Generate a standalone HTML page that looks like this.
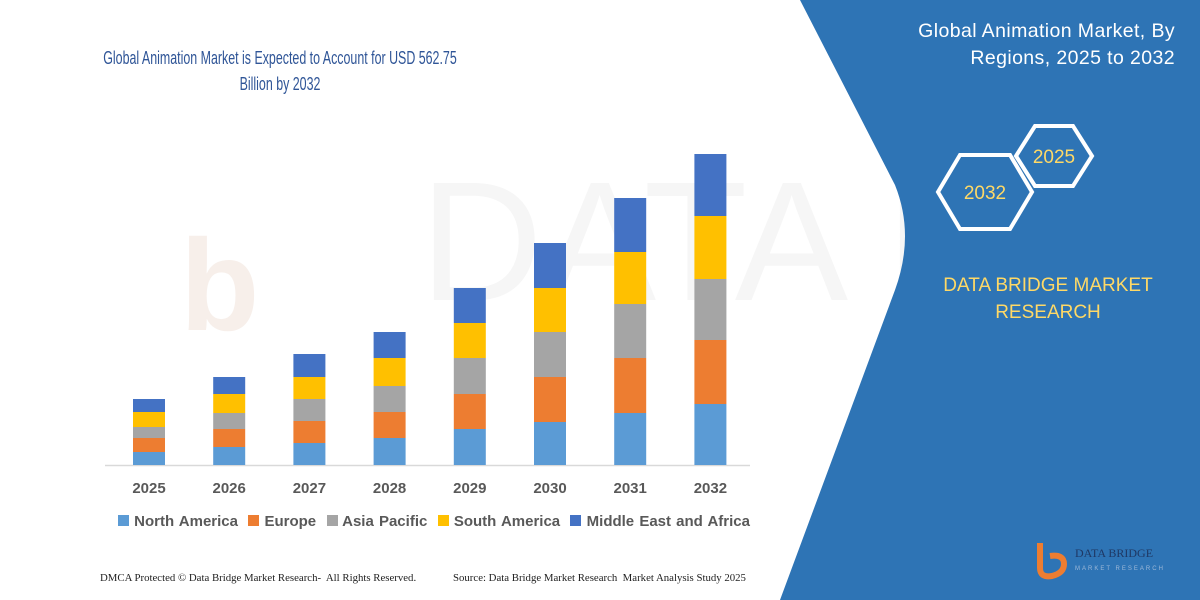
<!DOCTYPE html>
<html><head><meta charset="utf-8"><style>
body{margin:0;width:1200px;height:600px;overflow:hidden;background:#fff;font-family:"Liberation Sans",sans-serif;position:relative}
.a{position:absolute;white-space:nowrap}
</style></head><body>
<svg width="1200" height="600" style="position:absolute;left:0;top:0">
<text x="180" y="330" font-size="130" fill="#f7efea" font-weight="bold" font-family="Liberation Sans">b</text>
<text x="420" y="300" font-size="170" fill="#f6f6f6" font-family="Liberation Sans">DATA BRIDGE</text>
<path d="M800,0 L1200,0 L1200,600 L780,600 L895,290 Q915,235 895,185 Z" fill="#2e74b5"/>
<line x1="105" y1="465.5" x2="750" y2="465.5" stroke="#d9d9d9" stroke-width="1.5"/>
<g id="bars"></g>
<polygon points="960,155 1010,155 1032,192 1010,229 960,229 938,192" fill="none" stroke="#fff" stroke-width="4"/>
<polygon points="1035,126 1073,126 1092,156 1073,186 1035,186 1016,156" fill="none" stroke="#fff" stroke-width="4"/>
<text x="985" y="199" font-size="19" fill="#ffd966" text-anchor="middle" font-family="Liberation Sans">2032</text>
<text x="1054" y="163" font-size="19" fill="#ffd966" text-anchor="middle" font-family="Liberation Sans">2025</text>
<text x="1048" y="291" font-size="19" fill="#ffd966" text-anchor="middle" font-family="Liberation Sans">DATA BRIDGE MARKET</text>
<text x="1048" y="318" font-size="19" fill="#ffd966" text-anchor="middle" font-family="Liberation Sans">RESEARCH</text>
<path d="M1040,543 v25 q0,10 12,8 q12,-3 12,-12 q0,-10 -14,-8" fill="none" stroke="#ed7d31" stroke-width="6"/>
<text x="1075" y="557" font-size="12" fill="#1f3864" font-family="Liberation Serif">DATA BRIDGE</text>
<text x="1075" y="570" font-size="6" fill="#9db8d8" font-family="Liberation Sans" letter-spacing="2">MARKET RESEARCH</text>
</svg>
<div class="a" style="left:0;width:560px;top:45px;text-align:center;font-size:18px;color:#2f5597;line-height:26px;transform:scaleX(0.69);transform-origin:280px 0">Global Animation Market is Expected to Account for USD 562.75<br>Billion by 2032</div>
<div class="a" style="right:25px;top:18px;text-align:right;font-size:19.5px;color:#fff;line-height:27px;letter-spacing:0.4px">Global Animation Market, By<br>Regions, 2025 to 2032</div>
<div id="yrs"></div>
<div class="a" style="left:118px;top:513px;font-size:15px;font-weight:bold;color:#595959;word-spacing:1px">
<span style="display:inline-block;width:11px;height:11px;background:#5b9bd5"></span> North America&nbsp;
<span style="display:inline-block;width:11px;height:11px;background:#ed7d31"></span> Europe&nbsp;
<span style="display:inline-block;width:11px;height:11px;background:#a5a5a5"></span> Asia Pacific&nbsp;
<span style="display:inline-block;width:11px;height:11px;background:#ffc000"></span> South America&nbsp;
<span style="display:inline-block;width:11px;height:11px;background:#4472c4"></span> Middle East and Africa</div>
<div class="a" style="left:100px;top:572px;font-size:10.8px;font-family:'Liberation Serif',serif;color:#222">DMCA Protected © Data Bridge Market Research-&nbsp; All Rights Reserved.</div>
<div class="a" style="left:453px;top:572px;font-size:10.8px;font-family:'Liberation Serif',serif;color:#222">Source: Data Bridge Market Research&nbsp; Market Analysis Study 2025</div>
<script>
var d=[[399,412,427,438,452],[377,394,413,429,447],[354,377,399,421,443],[332,358,386,412,438],[288,323,358,394,429],[243,288,332,377,422],[198,252,304,358,413],[154,216,279,340,404]];
var c=["#4472c4","#ffc000","#a5a5a5","#ed7d31","#5b9bd5"];
var g=document.getElementById('bars'),s='',h='';
d.forEach(function(b,i){var x=133+i*80.2;b.push(465);
for(var k=0;k<5;k++)s+='<rect x="'+x+'" y="'+b[k]+'" width="32" height="'+(b[k+1]-b[k])+'" fill="'+c[k]+'"/>';
h+='<div class="a" style="left:'+(x-14)+'px;width:60px;text-align:center;top:480px;font-size:15px;font-weight:bold;color:#595959">'+(2025+i)+'</div>';});
g.innerHTML=s;document.getElementById('yrs').innerHTML=h;
</script>
</body></html>
